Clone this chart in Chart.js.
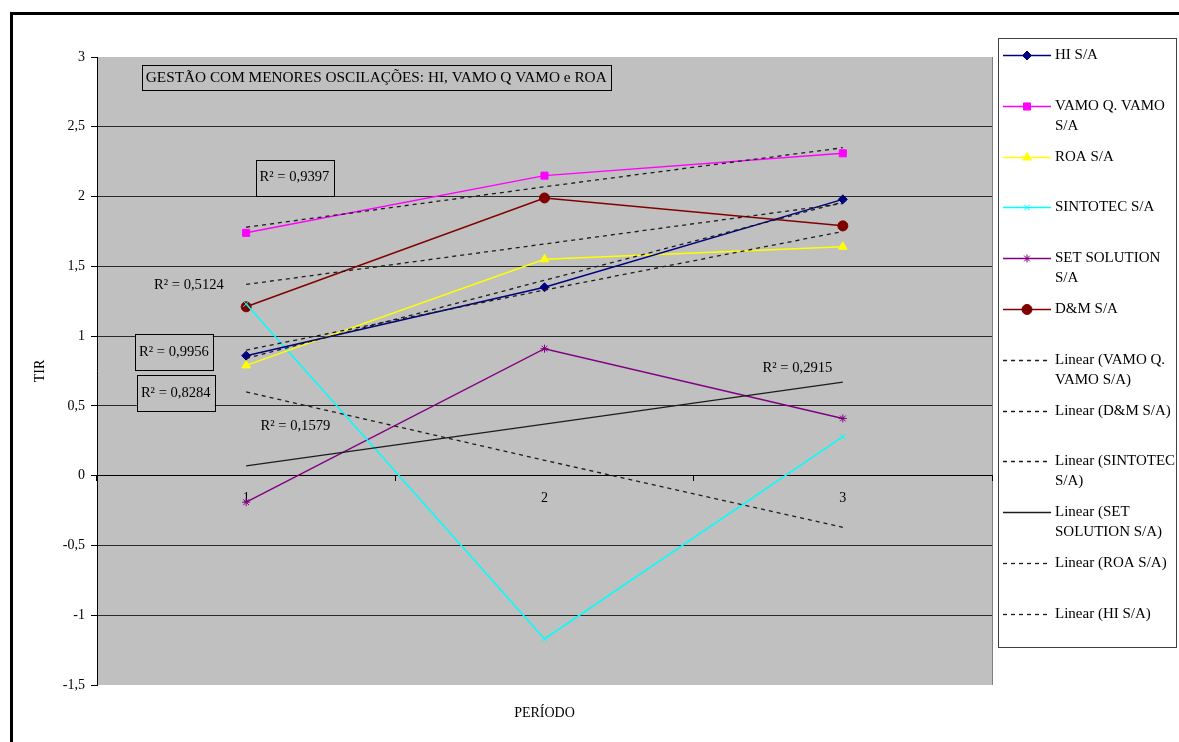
<!DOCTYPE html>
<html><head><meta charset="utf-8">
<script src="https://cdn.jsdelivr.net/npm/chart.js@4.4.1/dist/chart.umd.min.js"></script>
<style>html,body{margin:0;padding:0;background:#fff;overflow:hidden}</style>
</head><body>
<canvas id="c" width="1179" height="742"></canvas>
<script>
// ---- data ----
const categories = ['1', '2', '3'];
const hiSA = [0.86, 1.35, 1.98];
const vamoSA = [1.74, 2.15, 2.31];
const roaSA = [0.79, 1.55, 1.64];
const sintotecSA = [1.23, -1.17, 0.28];
const setSolutionSA = [-0.19, 0.91, 0.41];
const dmSA = [1.21, 1.99, 1.79];
// linear trend lines
const trendVamo = [1.78, 2.07, 2.35];
const trendDM = [1.37, 1.66, 1.95];
const trendSintotec = [0.60, 0.11, -0.37];
const trendSet = [0.07, 0.37, 0.67];
const trendRoa = [0.90, 1.33, 1.75];
const trendHi = [0.84, 1.40, 1.96];
const yTickLabels = ['-1,5', '-1', '-0,5', '0', '0,5', '1', '1,5', '2', '2,5', '3'];
const seriesNames = ['HI S/A', 'VAMO Q. VAMO S/A', 'ROA S/A', 'SINTOTEC S/A', 'SET SOLUTION S/A', 'D&M S/A'];
const trendNames = ['Linear (VAMO Q. VAMO S/A)', 'Linear (D&M S/A)', 'Linear (SINTOTEC S/A)', 'Linear (SET SOLUTION S/A)', 'Linear (ROA S/A)', 'Linear (HI S/A)'];
const r2Texts = ['R² = 0,9397', 'R² = 0,5124', 'R² = 0,9956', 'R² = 0,8284', 'R² = 0,1579', 'R² = 0,2915'];
const boxTitle = 'GESTÃO COM MENORES OSCILAÇÕES: HI, VAMO Q VAMO e ROA';
const yAxisTitle = 'TIR';
const xAxisTitle = 'PERÍODO';

const FONT = '"Liberation Serif", "Times New Roman", serif';
const FS = 14;
const TREND = '#1c1c1c';

function series(label, data, color, style, r) {
  return { label, data, borderColor: color, backgroundColor: color, borderWidth: 1.5,
    pointStyle: style, pointRadius: r, pointBorderWidth: 1, pointBackgroundColor: color,
    pointBorderColor: color, tension: 0, order: 2 };
}
function trend(label, data, dashed) {
  return { label, data, borderColor: TREND, backgroundColor: TREND, borderWidth: dashed ? 1.3 : 1.3,
    borderDash: dashed ? [4, 4] : [], pointRadius: 0, pointStyle: false, tension: 0, order: 1 };
}

const datasets = [
  series(seriesNames[0], hiSA, '#000080', 'rectRot', 4.5),
  series(seriesNames[1], vamoSA, '#ff00ff', 'rect', 5),
  series(seriesNames[2], roaSA, '#ffff00', 'triangle', 5),
  series(seriesNames[3], sintotecSA, '#00ffff', 'crossRot', 4),
  series(seriesNames[4], setSolutionSA, '#800080', 'star', 4),
  series(seriesNames[5], dmSA, '#800000', 'circle', 5),
  trend(trendNames[0], trendVamo, true),
  trend(trendNames[1], trendDM, true),
  trend(trendNames[2], trendSintotec, true),
  trend(trendNames[3], trendSet, false),
  trend(trendNames[4], trendRoa, true),
  trend(trendNames[5], trendHi, true)
];

// annotation placements in data coordinates (x = category index, y = value)
const notePlacement = [
  { x: 0.162, y: 2.136, boxed: true },
  { x: -0.192, y: 1.364, boxed: false },
  { x: -0.242, y: 0.886, boxed: true },
  { x: -0.236, y: 0.593, boxed: true },
  { x: 0.165, y: 0.357, boxed: false },
  { x: 1.848, y: 0.771, boxed: false }
];

function wrap(ctx, text, maxW) {
  const words = text.split(' ');
  const lines = []; let cur = '';
  for (const w of words) {
    const t = cur ? cur + ' ' + w : w;
    if (cur && ctx.measureText(t).width > maxW) { lines.push(cur); cur = w; } else cur = t;
  }
  if (cur) lines.push(cur);
  return lines;
}

const decor = {
  id: 'decor',
  beforeDraw(chart) {
    const { ctx, chartArea: a } = chart;
    ctx.save();
    ctx.fillStyle = '#fff';
    ctx.fillRect(0, 0, chart.width, chart.height);
    ctx.fillStyle = '#c0c0c0';
    ctx.fillRect(a.left, a.top, a.right - a.left, a.bottom - a.top);
    ctx.strokeStyle = '#808080'; ctx.lineWidth = 1;
    ctx.beginPath(); ctx.moveTo(a.right + 0.5, a.top); ctx.lineTo(a.right + 0.5, a.bottom); ctx.stroke();
    ctx.strokeStyle = '#000'; ctx.lineWidth = 3;
    ctx.beginPath(); ctx.moveTo(11.5, chart.height); ctx.lineTo(11.5, 13.5); ctx.lineTo(chart.width, 13.5); ctx.stroke();
    ctx.restore();
  },
  afterDatasetsDraw(chart) {
    const { ctx } = chart;
    const xs = chart.scales.x, ys = chart.scales.y;
    ctx.save();
    ctx.textBaseline = 'middle';
    ctx.fillStyle = '#000';
    // title box
    ctx.font = '15.3px ' + FONT;
    const tx = xs.getPixelForValue(-0.35), ty = ys.getPixelForValue(2.854);
    const tw = ctx.measureText(boxTitle).width;
    ctx.strokeStyle = '#000'; ctx.lineWidth = 1;
    ctx.strokeRect(Math.round(tx) + 0.5, Math.round(ty - 12) + 0.5, Math.round(tw + 8), 25);
    ctx.textAlign = 'left';
    ctx.fillText(boxTitle, tx + 4, ty + 1);
    // R² notes
    ctx.font = '14.6px ' + FONT;
    ctx.textAlign = 'center';
    r2Texts.forEach((t, i) => {
      const p = notePlacement[i];
      const x = xs.getPixelForValue(p.x), y = ys.getPixelForValue(p.y);
      const w = ctx.measureText(t).width;
      if (p.boxed) {
        ctx.fillStyle = '#c0c0c0';
        ctx.fillRect(x - w / 2 - 4, y - 18, w + 8, 36);
        ctx.strokeStyle = '#000'; ctx.lineWidth = 1;
        ctx.strokeRect(Math.round(x - w / 2 - 4) + 0.5, Math.round(y - 18) + 0.5, Math.round(w + 8), 36);
      }
      ctx.fillStyle = '#000';
      ctx.fillText(t, x, y);
    });
    ctx.restore();
  },
  afterDraw(chart) {
    const { ctx, chartArea: a } = chart;
    ctx.save();
    ctx.font = FS + 'px ' + FONT;
    ctx.fillStyle = '#000';
    ctx.textBaseline = 'middle';
    ctx.textAlign = 'center';
    ctx.fillText(xAxisTitle, (a.left + a.right) / 2, a.bottom + 28);
    // legend
    ctx.font = '15px ' + FONT;
    const L = a.right + 6, T = a.top - 19, R = chart.width - 2, B = a.bottom - 37;
    ctx.fillStyle = '#fff';
    ctx.fillRect(L, T, R - L, B - T);
    ctx.strokeStyle = '#404040'; ctx.lineWidth = 1;
    ctx.strokeRect(L + 0.5, T + 0.5, R - L - 1, B - T - 1);
    ctx.textAlign = 'left';
    chart.data.datasets.forEach((ds, i) => {
      const y = Math.round(T + 17 + i * 50.8) + 0.5;
      ctx.save();
      ctx.strokeStyle = ds.borderColor; ctx.lineWidth = ds.borderWidth;
      ctx.setLineDash(ds.borderDash || []);
      ctx.beginPath(); ctx.moveTo(L + 5, y); ctx.lineTo(L + 53, y); ctx.stroke();
      ctx.restore();
      if (ds.pointRadius > 0) {
        ctx.fillStyle = ds.pointBackgroundColor; ctx.strokeStyle = ds.pointBorderColor; ctx.lineWidth = 1;
        Chart.helpers.drawPoint(ctx, { pointStyle: ds.pointStyle, radius: ds.pointRadius, borderWidth: 1, rotation: 0 }, L + 29, y);
      }
      ctx.fillStyle = '#000';
      const lines = wrap(ctx, ds.label, R - (L + 57) - 1);
      lines.forEach((ln, k) => ctx.fillText(ln, L + 57, y + k * 20));
    });
    ctx.restore();
  }
};

new Chart(document.getElementById('c'), {
  type: 'line',
  data: { labels: categories, datasets },
  plugins: [decor],
  options: {
    responsive: false, animation: false, devicePixelRatio: 1,
    layout: { padding: { left: 0, top: 57, right: 187, bottom: 57 } },
    plugins: { legend: { display: false }, tooltip: { enabled: false } },
    scales: {
      y: {
        type: 'linear', min: -1.5, max: 3,
        afterFit(s) { s.width = 97; },
        ticks: { stepSize: 0.5, color: '#000', padding: 6, font: { family: FONT, size: FS },
          callback: (v, i) => yTickLabels[i] },
        grid: { color: c => (c.tick && (c.tick.value === 3 || c.tick.value === -1.5)) ? 'rgba(0,0,0,0)' : '#2a2a2a',
          tickColor: '#000', lineWidth: 1, drawTicks: true, tickLength: 6 },
        border: { display: true, color: '#000', width: 1 },
        title: { display: true, text: yAxisTitle, color: '#000', font: { family: FONT, size: FS }, padding: { top: 32, bottom: 0 } }
      },
      x: {
        type: 'category', position: { y: 0 }, offset: true,
        ticks: { color: '#000', padding: 9, font: { family: FONT, size: FS }, maxRotation: 0 },
        grid: { offset: true, drawOnChartArea: false, drawTicks: true, tickLength: 5, color: '#000' },
        border: { display: true, color: '#000', width: 1 }
      }
    }
  }
});
</script>
</body></html>
